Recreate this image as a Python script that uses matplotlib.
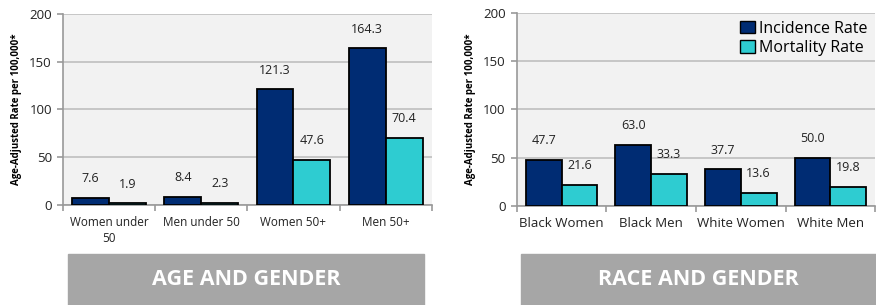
import numpy as np
import matplotlib
matplotlib.use("Agg")
import matplotlib.pyplot as plt

plt.rcParams['font.family'] = ['Open Sans', 'DejaVu Sans']

# data
age_cats = ['Women under\n50', 'Men under 50', 'Women 50+', 'Men 50+']
age_incidence = [7.6, 8.4, 121.3, 164.3]
age_mortality = [1.9, 2.3, 47.6, 70.4]

race_cats = ['Black Women', 'Black Men', 'White Women', 'White Men']
race_incidence = [47.7, 63.0, 37.7, 50.0]
race_mortality = [21.6, 33.3, 13.6, 19.8]

banners = ['AGE AND GENDER', 'RACE AND GENDER']

inc_color = '#002C73'
mort_color = '#2ECCD1'
ylab = 'Age-Adjusted Rate per 100,000*'


def draw(ax, cats, inc, mort, legend=False, catsize=8.5):
    x = np.arange(len(cats))
    w = 0.4
    ax.set_facecolor('#F2F2F2')
    ax.bar(x - w/2, inc, w, color=inc_color, edgecolor='black', linewidth=1.3,
           label='Incidence Rate', zorder=3)
    ax.bar(x + w/2, mort, w, color=mort_color, edgecolor='black', linewidth=1.3,
           label='Mortality Rate', zorder=3)
    for xi, v in zip(x - w/2, inc):
        ax.text(xi, v + 20, f'{v:.1f}', ha='center', va='center', fontsize=9, color='#222222')
    for xi, v in zip(x + w/2, mort):
        ax.text(xi, v + 20, f'{v:.1f}', ha='center', va='center', fontsize=9, color='#222222')
    ax.set_xlim(-0.5, len(cats) - 0.5)
    ax.set_ylim(0, 200)
    ax.set_yticks([0, 50, 100, 150, 200])
    ax.yaxis.grid(True, color='#BFBFBF', linewidth=1.2, zorder=0)
    ax.set_axisbelow(True)
    ax.set_xticks(x)
    ax.set_xticklabels(cats, fontsize=catsize, color='#222222', linespacing=1.3)
    ax.set_xticks(np.arange(len(cats) + 1) - 0.5, minor=True)
    ax.tick_params(axis='x', which='major', length=0, pad=8)
    ax.tick_params(axis='x', which='minor', length=4, color='#999999', width=1.2)
    ax.tick_params(axis='y', length=4, color='#999999', width=1.2, labelsize=9.5,
                   labelcolor='#222222', pad=4)
    for s in ['top', 'right']:
        ax.spines[s].set_visible(False)
    for s in ['left', 'bottom']:
        ax.spines[s].set_color('#999999')
        ax.spines[s].set_linewidth(1.2)
    ax.set_ylabel(ylab, fontsize=7, fontweight='bold', labelpad=5)
    if legend:
        leg = ax.legend(loc='upper right', fontsize=11.5, frameon=False,
                        handlelength=0.9, handleheight=0.8, handletextpad=0.25,
                        labelspacing=0.2, borderaxespad=0.1)
        for h in leg.legend_handles:
            h.set_linewidth(1.0)


fig = plt.figure(figsize=(8.76, 3.05), dpi=100)
ax1 = fig.add_axes([0.0719, 0.328, 0.421, 0.626])
ax2 = fig.add_axes([0.590, 0.325, 0.409, 0.633])
draw(ax1, age_cats, age_incidence, age_mortality)
draw(ax2, race_cats, race_incidence, race_mortality, legend=True, catsize=9.5)

for (x0, w), label in zip([(0.0776, 0.406), (0.595, 0.405)], banners):
    fig.patches.append(plt.Rectangle((x0, 0), w, 0.167, transform=fig.transFigure,
                                     color='#A6A6A6', zorder=0))
    fig.text(x0 + w/2, 0.083, label, ha='center', va='center', color='white',
             fontsize=15.5, fontweight='bold')

fig.savefig('out.png', dpi=100)
